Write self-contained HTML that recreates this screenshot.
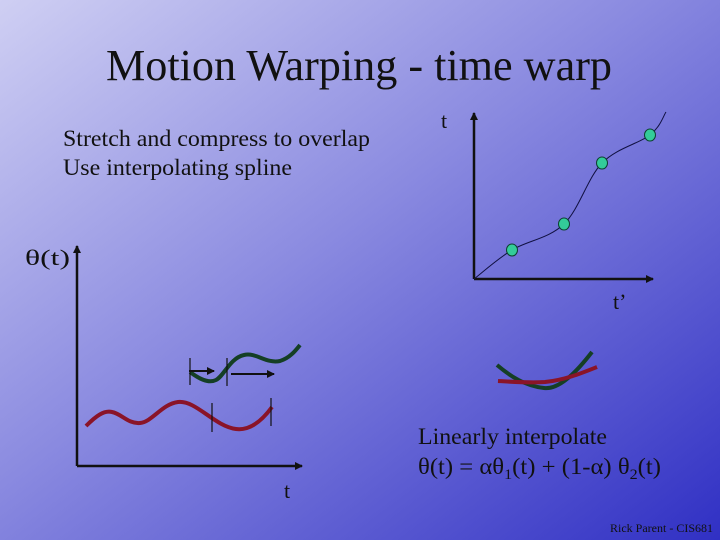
<!DOCTYPE html>
<html>
<head>
<meta charset="utf-8">
<style>
html,body{margin:0;padding:0;}
body{width:720px;height:540px;overflow:hidden;}
svg{display:block;}
text{font-family:"Liberation Serif",serif;fill:#111;}
</style>
</head>
<body>
<svg id="slide" width="720" height="540" viewBox="0 0 720 540" xmlns="http://www.w3.org/2000/svg">
<defs>
<linearGradient id="bg" x1="0" y1="0" x2="1" y2="1">
<stop offset="0" stop-color="#cfcff3"/>
<stop offset="0.45" stop-color="#8a8ae0"/>
<stop offset="1" stop-color="#3030c4"/>
</linearGradient>
<marker id="ah" markerWidth="8" markerHeight="8" refX="7" refY="4" orient="auto" markerUnits="userSpaceOnUse"><path d="M0,0 L8,4 L0,8 z" fill="#111"/></marker>
</defs>
<rect width="720" height="540" fill="url(#bg)"/>

<text x="106" y="80" font-size="44" textLength="506" lengthAdjust="spacingAndGlyphs">Motion Warping - time warp</text>
<text x="63" y="146" font-size="23" textLength="307" lengthAdjust="spacingAndGlyphs">Stretch and compress to overlap</text>
<text x="63" y="175" font-size="23" textLength="229" lengthAdjust="spacingAndGlyphs">Use interpolating spline</text>

<g>
<line x1="474" y1="279" x2="474" y2="113" stroke="#111" stroke-width="2.5" marker-end="url(#ah)"/>
<line x1="474" y1="279" x2="653" y2="279" stroke="#111" stroke-width="2.5" marker-end="url(#ah)"/>
<text x="441" y="128" font-size="22">t</text>
<text x="613" y="309" font-size="22">t’</text>
<path id="warpCurve" fill="none" stroke="#101040" stroke-width="1"/>
<g id="knots"></g>
</g>

<g>
<line x1="77" y1="466" x2="77" y2="246" stroke="#111" stroke-width="2.5" marker-end="url(#ah)"/>
<line x1="77" y1="466" x2="302" y2="466" stroke="#111" stroke-width="2.5" marker-end="url(#ah)"/>
<text x="25" y="265" font-size="22" textLength="45" lengthAdjust="spacingAndGlyphs">θ(t)</text>
<text x="284" y="498" font-size="22">t</text>
<path d="M86,426 C96,416 104,410 112,412 C122,414 128,424 140,423 C152,422 162,404 178,402 C196,400 214,426 236,429 C252,431 264,418 272,407" fill="none" stroke="#8a1428" stroke-width="4"/>
<path d="M190,372 C198,378 208,384 216,380 C224,376 230,358 244,355 C256,352 266,364 280,361 C290,358 296,350 300,345" fill="none" stroke="#153f25" stroke-width="4"/>
<line x1="190" y1="358" x2="190" y2="385" stroke="#111" stroke-width="1.2"/>
<line x1="227" y1="358" x2="227" y2="386" stroke="#111" stroke-width="1.2"/>
<line x1="212" y1="403" x2="212" y2="432" stroke="#111" stroke-width="1.2"/>
<line x1="271" y1="398" x2="271" y2="426" stroke="#111" stroke-width="1.2"/>
<line x1="189" y1="371" x2="214" y2="371" stroke="#111" stroke-width="2" marker-end="url(#ah)"/>
<line x1="231" y1="374" x2="274" y2="374" stroke="#111" stroke-width="2" marker-end="url(#ah)"/>
</g>

<g>
<path d="M497,365 C510,376 525,386 544,388 C560,390 578,370 592,352" fill="none" stroke="#153f25" stroke-width="4"/>
<path d="M498,381 C515,382 530,383 545,382 C565,380 582,373 597,367" fill="none" stroke="#8a1428" stroke-width="4"/>
</g>

<text x="418" y="444" font-size="23" textLength="189" lengthAdjust="spacingAndGlyphs">Linearly interpolate</text>
<text x="418" y="474" font-size="23" textLength="243" lengthAdjust="spacingAndGlyphs">θ(t) = αθ<tspan font-size="15" dy="5">1</tspan><tspan dy="-5">(t) + (1-α) θ</tspan><tspan font-size="15" dy="5">2</tspan><tspan dy="-5">(t)</tspan></text>
<text x="610" y="532" font-size="12">Rick Parent - CIS681</text>
</svg>
<script>
// spline knots in graph units (t' horizontal, t vertical), origin at axes corner
const knotX = [38, 90, 128, 176];
const knotY = [29, 55, 116, 144];
const ox = 474, oy = 279;
function sx(v){return ox + v;}
function sy(v){return oy - v;}
const px = [0].concat(knotX).concat([192]);
const py = [0].concat(knotY).concat([167]);
let d = "M" + sx(px[0]) + "," + sy(py[0]);
for (let i = 0; i < px.length - 1; i++) {
  const p0x = px[Math.max(i-1,0)], p0y = py[Math.max(i-1,0)];
  const p1x = px[i], p1y = py[i], p2x = px[i+1], p2y = py[i+1];
  const p3x = px[Math.min(i+2,px.length-1)], p3y = py[Math.min(i+2,px.length-1)];
  const c1x = p1x + (p2x - p0x)/6, c1y = p1y + (p2y - p0y)/6;
  const c2x = p2x - (p3x - p1x)/6, c2y = p2y - (p3y - p1y)/6;
  d += " C" + sx(c1x) + "," + sy(c1y) + " " + sx(c2x) + "," + sy(c2y) + " " + sx(p2x) + "," + sy(p2y);
}
document.getElementById('warpCurve').setAttribute('d', d);
const g = document.getElementById('knots');
for (let i = 0; i < knotX.length; i++) {
  const e = document.createElementNS('http://www.w3.org/2000/svg','ellipse');
  e.setAttribute('cx', sx(knotX[i]));
  e.setAttribute('cy', sy(knotY[i]));
  e.setAttribute('rx', 5.5);
  e.setAttribute('ry', 6);
  e.setAttribute('fill', '#33cc99');
  e.setAttribute('stroke', '#0d4030');
  e.setAttribute('stroke-width', '1');
  
  
  g.appendChild(e);
}
</script>
</body>
</html>
